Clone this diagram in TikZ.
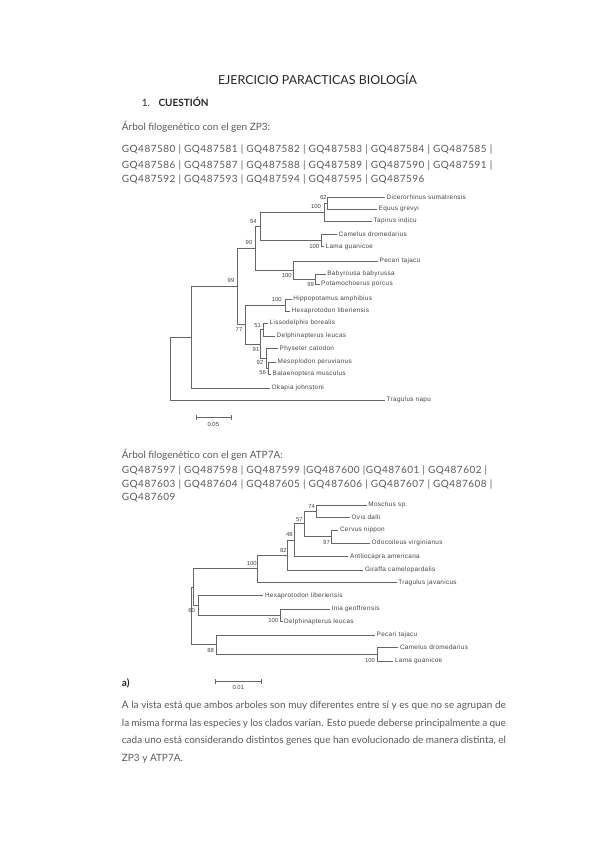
\documentclass[tikz,border=0pt]{standalone}
\usepackage{fontspec}
\setmainfont{Lato}
\newfontfamily\treefont{Liberation Sans}[LetterSpace=5]
\newfontfamily\bsfont{Liberation Sans}
\newfontfamily\gqfont{Lato}[LetterSpace=5]
\definecolor{bodygray}{HTML}{5A5A5A}
\definecolor{titlec}{HTML}{262626}
\definecolor{treeline}{HTML}{666666}
\definecolor{treetext}{HTML}{444444}
\begin{document}
\begin{tikzpicture}[x=1pt,y=-1pt,
  br/.style={draw=treeline,line width=0.8pt},
  tip/.style={font=\treefont\fontsize{6.4}{7}\selectfont,anchor=west,inner sep=1.5pt,text=treetext},
  bs/.style={font=\bsfont\fontsize{5.9}{7}\selectfont,inner sep=0pt,text=treetext},
  body/.style={font=\fontsize{10}{12}\selectfont,text=bodygray,anchor=base west,inner sep=0pt},
  gq/.style={font=\gqfont\fontsize{10}{12}\selectfont,text=bodygray,anchor=base west,inner sep=0pt}]
\useasboundingbox[fill=white] (0,0) rectangle (599,848);

% ---------- header text ----------
\node[font=\fontsize{12.4}{14}\selectfont,text=titlec,anchor=base,inner sep=0pt] (title) at (317.5,85) {EJERCICIO PARACTICAS BIOLOGÍA};
\node[body,text=titlec] (num) at (141.7,107) {1.};
\node[body,text=titlec,font=\bfseries\fontsize{10}{12}\selectfont] (cues) at (158.3,107) {CUESTIÓN};
\node[body] (arb1) at (121.7,130.5) {Árbol filogenético con el gen ZP3:};
\node[gq] (gq1) at (121.7,153) {GQ487580 | GQ487581 | GQ487582 | GQ487583 | GQ487584 | GQ487585 |};
\node[gq] (gq2) at (121.7,168) {GQ487586 | GQ487587 | GQ487588 | GQ487589 | GQ487590 | GQ487591 |};
\node[gq] (gq3) at (121.7,182.7) {GQ487592 | GQ487593 | GQ487594 | GQ487595 | GQ487596};

% ---------- tree 1 ----------
\coordinate (n62) at (327.7,203);
\coordinate (dic) at (385,197);
\coordinate (equ) at (377,209);
\coordinate (n100a) at (324,212);
\coordinate (tap) at (372,221);
\coordinate (ncam) at (321.7,240.5);
\coordinate (cam) at (337,234.3);
\coordinate (lama) at (324,246.7);
\coordinate (n54) at (260,226.3);
\coordinate (nbab) at (315.7,279.3);
\coordinate (bab) at (325.7,274.3);
\coordinate (pot) at (319.5,284.3);
\coordinate (npig) at (293.3,270);
\coordinate (pec) at (378,261);
\coordinate (n90) at (255.7,248.2);
\coordinate (nhip) at (285,305.3);
\coordinate (hip) at (291.7,299.3);
\coordinate (hex) at (290,311.3);
\coordinate (n51) at (263.3,329.7);
\coordinate (lis) at (268,323.3);
\coordinate (del) at (275,336);
\coordinate (n56) at (268.5,368);
\coordinate (mes) at (276,362);
\coordinate (bal) at (271,374);
\coordinate (n92) at (266,358.3);
\coordinate (phy) at (278,348.7);
\coordinate (n91) at (260,344);
\coordinate (n77) at (245,324.7);
\coordinate (n99) at (237.3,286.4);
\coordinate (nok) at (191.7,337.4);
\coordinate (oka) at (270,388.3);
\coordinate (root1) at (170.7,368.7);
\coordinate (tra) at (385,400);

\draw[br] (n62) |- (dic);  \draw[br] (n62) |- (equ);
\draw[br] (n100a) |- (n62); \draw[br] (n100a) |- (tap);
\draw[br] (ncam) |- (cam); \draw[br] (ncam) |- (lama);
\draw[br] (n54) |- (n100a); \draw[br] (n54) |- (ncam);
\draw[br] (nbab) |- (bab); \draw[br] (nbab) |- (pot);
\draw[br] (npig) |- (pec); \draw[br] (npig) |- (nbab);
\draw[br] (n90) |- (n54); \draw[br] (n90) |- (npig);
\draw[br] (nhip) |- (hip); \draw[br] (nhip) |- (hex);
\draw[br] (n51) |- (lis); \draw[br] (n51) |- (del);
\draw[br] (n56) |- (mes); \draw[br] (n56) |- (bal);
\draw[br] (n92) |- (phy); \draw[br] (n92) |- (n56);
\draw[br] (n91) |- (n51); \draw[br] (n91) |- (n92);
\draw[br] (n77) |- (nhip); \draw[br] (n77) |- (n91);
\draw[br] (n99) |- (n90); \draw[br] (n99) |- (n77);
\draw[br] (nok) |- (n99); \draw[br] (nok) |- (oka);
\draw[br] (root1) |- (nok); \draw[br] (root1) |- (tra);

\node[tip] (ldic) at (dic) {Dicerorhinus sumatrensis};
\node[tip] (lequ) at (equ) {Equus grevyi};
\node[tip] (ltap) at (tap) {Tapirus indicu};
\node[tip] (lcam) at (cam) {Camelus dromedarius};
\node[tip] (llama) at (lama) {Lama guanicoe};
\node[tip] (lpec) at (pec) {Pecari tajacu};
\node[tip] (lbab) at (bab) {Babyrousa babyrussa};
\node[tip] (lpot) at (pot) {Potamochoerus porcus};
\node[tip] (lhip) at (hip) {Hippopotamus amphibius};
\node[tip] (lhex) at (hex) {Hexaprotodon liberiensis};
\node[tip] (llis) at (lis) {Lissodelphis borealis};
\node[tip] (ldel) at (del) {Delphinapterus leucas};
\node[tip] (lphy) at (phy) {Physeter catodon};
\node[tip] (lmes) at (mes) {Mesoplodon peruvianus};
\node[tip] (lbal) at (bal) {Balaenoptera musculus};
\node[tip] (loka) at (oka) {Okapia johnstoni};
\node[tip] (ltra) at (tra) {Tragulus napu};

\node[bs] (b62) at (323.3,197.7) {62};
\node[bs] (b100a) at (316,206.7) {100};
\node[bs] (b54) at (253.3,221) {54};
\node[bs] (b90) at (249,242.3) {90};
\node[bs] (b100c) at (314.3,246) {100};
\node[bs] (b99) at (231,280.7) {99};
\node[bs] (b100p) at (286.7,275) {100};
\node[bs] (b99b) at (310.7,284) {99};
\node[bs] (b100h) at (276.7,299.3) {100};
\node[bs] (b77) at (239,329.3) {77};
\node[bs] (b51) at (257.7,325) {51};
\node[bs] (b91) at (256,349.3) {91};
\node[bs] (b92) at (260,362.7) {92};
\node[bs] (b56) at (262.7,372.7) {56};

\coordinate (s1a) at (196.7,417.3);
\coordinate (s1b) at (231.7,417.3);
\draw[br] (s1a) -- (s1b);
\draw[br] ([yshift=-2.2pt]s1a) -- ([yshift=2.2pt]s1a);
\draw[br] ([yshift=-2.2pt]s1b) -- ([yshift=2.2pt]s1b);
\node[bs] (sc1) at (213.3,424.5) {0.05};

% ---------- second text block ----------
\node[body] (arb2) at (121.7,458.5) {Árbol filogenético con el gen ATP7A:};
\node[gq] (gq4) at (121.7,473) {GQ487597 | GQ487598 | GQ487599 |GQ487600 |GQ487601 | GQ487602 |};
\node[gq] (gq5) at (121.7,487) {GQ487603 | GQ487604 | GQ487605 | GQ487606 | GQ487607 | GQ487608 |};
\node[gq] (gq6) at (121.7,500.4) {GQ487609};

% ---------- tree 2 ----------
\coordinate (n74) at (316.7,511);
\coordinate (mos) at (366.7,505);
\coordinate (ovi) at (350,517.3);
\coordinate (n97) at (331.7,536.7);
\coordinate (cer) at (338.3,530);
\coordinate (odo) at (370,543.3);
\coordinate (n57) at (304.3,523.8);
\coordinate (n48) at (294,540.2);
\coordinate (ant) at (348.3,556.7);
\coordinate (n82) at (287.7,555);
\coordinate (gir) at (363.3,570);
\coordinate (n100b) at (257.7,568.8);
\coordinate (trj) at (396.7,582.7);
\coordinate (ninia) at (280,615.3);
\coordinate (ini) at (330,609);
\coordinate (dl2) at (282.5,621.7);
\coordinate (nhex) at (198.3,605.5);
\coordinate (hx2) at (263.3,595.7);
\coordinate (nA) at (193.3,587.2);
\coordinate (ncam2) at (377.3,654.3);
\coordinate (cm2) at (398.3,647.7);
\coordinate (lm2) at (393.3,661);
\coordinate (npc) at (216.7,644.7);
\coordinate (pc2) at (375,635);
\coordinate (root2) at (191.7,616);

\draw[br] (n74) |- (mos); \draw[br] (n74) |- (ovi);
\draw[br] (n97) |- (cer); \draw[br] (n97) |- (odo);
\draw[br] (n57) |- (n74); \draw[br] (n57) |- (n97);
\draw[br] (n48) |- (n57); \draw[br] (n48) |- (ant);
\draw[br] (n82) |- (n48); \draw[br] (n82) |- (gir);
\draw[br] (n100b) |- (n82); \draw[br] (n100b) |- (trj);
\draw[br] (ninia) |- (ini); \draw[br] (ninia) |- (dl2);
\draw[br] (nhex) |- (hx2); \draw[br] (nhex) |- (ninia);
\draw[br] (nA) |- (n100b); \draw[br] (nA) |- (nhex);
\draw[br] (ncam2) |- (cm2); \draw[br] (ncam2) |- (lm2);
\draw[br] (npc) |- (pc2); \draw[br] (npc) |- (ncam2);
\draw[br] (root2) |- (nA); \draw[br] (root2) |- (npc);

\node[tip] (lmos) at (mos) {Moschus sp.};
\node[tip] (lovi) at (ovi) {Ovis dalli};
\node[tip] (lcer) at (cer) {Cervus nippon};
\node[tip] (lodo) at (odo) {Odocoileus virginianus};
\node[tip] (lant) at (ant) {Antilocapra americana};
\node[tip] (lgir) at (gir) {Giraffa camelopardalis};
\node[tip] (ltrj) at (trj) {Tragulus javanicus};
\node[tip] (lhx2) at (hx2) {Hexaprotodon liberiensis};
\node[tip] (lini) at (ini) {Inia geoffrensis};
\node[tip] (ldl2) at (dl2) {Delphinapterus leucas};
\node[tip] (lpc2) at (pc2) {Pecari tajacu};
\node[tip] (lcm2) at (cm2) {Camelus dromedarius};
\node[tip] (llm2) at (lm2) {Lama guanicoe};

\node[bs] (b74) at (311.7,506) {74};
\node[bs] (b57) at (299.3,519.3) {57};
\node[bs] (b97) at (326.5,542.7) {97};
\node[bs] (b48) at (289.3,534.3) {48};
\node[bs] (b82) at (283.3,550) {82};
\node[bs] (b100t) at (251.7,563.3) {100};
\node[bs] (b60) at (191.7,610) {60};
\node[bs] (b100i) at (273.3,620) {100};
\node[bs] (b88) at (210.7,650) {88};
\node[bs] (b100m) at (370,660) {100};

\coordinate (s2a) at (215,681.5);
\coordinate (s2b) at (261,681.5);
\draw[br] (s2a) -- (s2b);
\draw[br] ([yshift=-2.2pt]s2a) -- ([yshift=2.2pt]s2a);
\draw[br] ([yshift=-2.2pt]s2b) -- ([yshift=2.2pt]s2b);
\node[bs] (sc2) at (238.3,687) {0.01};

% ---------- answer ----------
\node[body,text=titlec,font=\bfseries\fontsize{10}{12}\selectfont] (qa) at (121.7,686.5) {a)};
\node[body] (p1) at (121.7,708.5) {\makebox[384pt][s]{A la vista está que ambos arboles son muy diferentes entre sí y es que no se agrupan de}};
\node[body] (p2) at (121.7,726) {\makebox[384pt][s]{la misma forma las especies y los clados varían. Esto puede deberse principalmente a que}};
\node[body] (p3) at (121.7,743.5) {\makebox[384pt][s]{cada uno está considerando distintos genes que han evolucionado de manera distinta, el}};
\node[body] (p4) at (121.7,761) {ZP3 y ATP7A.};
\end{tikzpicture}
\end{document}
